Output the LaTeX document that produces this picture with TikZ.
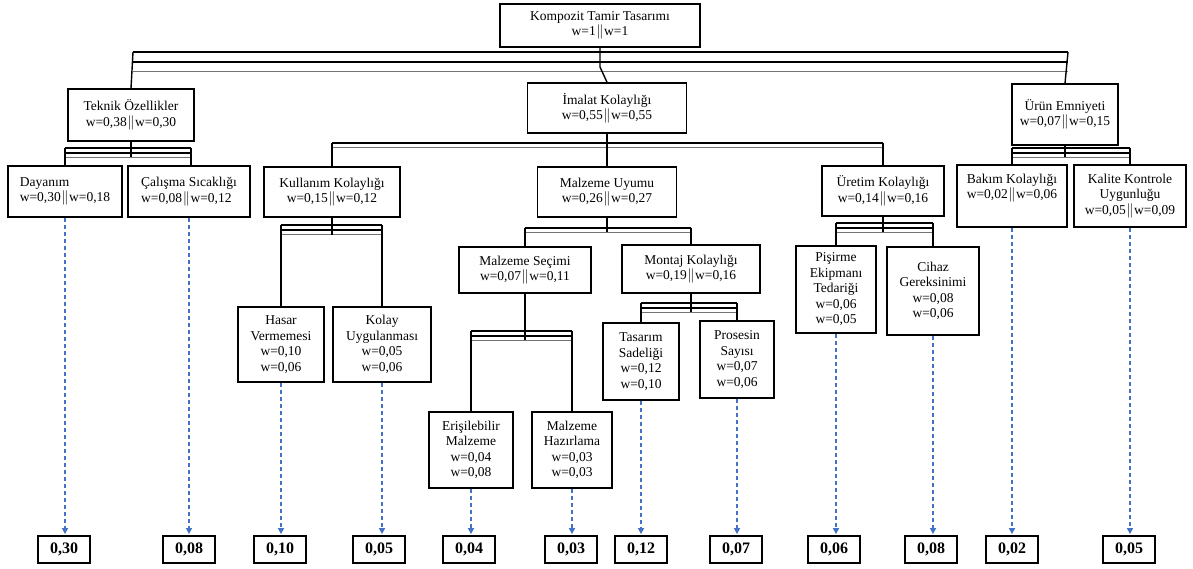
\documentclass[tikz,border=0pt]{standalone}
\usepackage{fontspec}
\setmainfont{Liberation Serif}
\usetikzlibrary{arrows.meta}
\definecolor{arrblue}{HTML}{4472C4}
\newcommand{\bxfont}{\fontsize{13.5}{15.5}\selectfont}
\newcommand{\W}{\hspace{0.6pt}$\|$\hspace{0.6pt}}
\newcommand{\busthree}[3]{%
  \draw[busd] (#2,#1) -- (#3,#1);
  \draw[busd] (#2,#1+5) -- (#3,#1+5);
  \draw[busg] (#2,#1+9) -- (#3,#1+9);}
\newcommand{\bustwo}[3]{%
  \draw[busd] (#2,#1) -- (#3,#1);
  \draw[busg] (#2,#1+4) -- (#3,#1+4);}
\begin{document}
\begin{tikzpicture}[x=1pt,y=-1pt,
  box/.style={draw, line width=1.5pt, inner sep=2pt, align=center, font=\bxfont},
  txt/.style={inner sep=0pt, align=center, font=\bxfont},
  bot/.style={draw, line width=1.8pt, minimum width=52pt, minimum height=27pt, inner sep=0pt,
    font=\bfseries\fontsize{16}{16}\selectfont},
  con/.style={line width=1.4pt},
  busd/.style={line width=1.2pt},
  busg/.style={line width=1pt, black!55},
  arr/.style={draw=arrblue, line width=1.5pt, dash pattern=on 4pt off 3pt,
    -{Triangle[length=6pt,width=6pt,fill=arrblue]}, shorten >=1pt}]
\useasboundingbox (0,0) rectangle (1193,568);

% level 1
\node[box, minimum width=200pt, minimum height=43pt] (top) at (600,25.5) {Kompozit Tamir Tasarımı\\w=1\W w=1};
% level 2
\node[box, minimum width=126pt, minimum height=52pt] (tek) at (131,115) {Teknik Özellikler\\w=0,38\W w=0,30};
\node[box, minimum width=159pt, minimum height=50pt] (ima) at (607,108) {İmalat Kolaylığı\\w=0,55\W w=0,55};
\node[box, minimum width=106pt, minimum height=61pt] (urun) at (1065,114.5) {Ürün Emniyeti\\w=0,07\W w=0,15};
% level 3
\node[box, align=left, minimum width=114pt, minimum height=51pt] (day) at (65,191.5) {Dayanım\\w=0,30\W w=0,18};
\node[box, align=left, minimum width=122pt, minimum height=51pt] (cal) at (189,191.5) {Çalışma Sıcaklığı\\w=0,08\W w=0,12};
\node[box, minimum width=136pt, minimum height=50pt] (kul) at (332,192) {Kullanım Kolaylığı\\w=0,15\W w=0,12};
\node[box, minimum width=139pt, minimum height=50pt] (mu) at (607,192) {Malzeme Uyumu\\w=0,26\W w=0,27};
\node[box, minimum width=122pt, minimum height=50pt] (ure) at (883,191) {Üretim Kolaylığı\\w=0,14\W w=0,16};
\node[box, minimum width=110pt, minimum height=62pt] (bak) at (1012,196) {};
\node[txt] (bakt) at (1012,188) {Bakım Kolaylığı\\w=0,02\W w=0,06};
\node[box, minimum width=112pt, minimum height=62pt] (kal) at (1130,196) {Kalite Kontrole\\Uygunluğu\\w=0,05\W w=0,09};
% level 4
\node[box, minimum width=86pt, minimum height=75pt] (has) at (281,344.5) {Hasar\\Vermemesi\\w=0,10\\w=0,06};
\node[box, minimum width=98pt, minimum height=75pt] (kol) at (382,344.5) {Kolay\\Uygulanması\\w=0,05\\w=0,06};
\node[box, minimum width=132pt, minimum height=46pt] (ms) at (525,270) {Malzeme Seçimi\\w=0,07\W w=0,11};
\node[box, minimum width=138pt, minimum height=48pt] (mon) at (691,269) {Montaj Kolaylığı\\w=0,19\W w=0,16};
\node[box, minimum width=80pt, minimum height=87pt] (pis) at (836,289.5) {Pişirme\\Ekipmanı\\Tedariği\\w=0,06\\w=0,05};
\node[box, minimum width=92pt, minimum height=88pt] (cih) at (933,291) {Cihaz\\Gereksinimi\\w=0,08\\w=0,06};
% level 5
\node[box, minimum width=84pt, minimum height=76pt] (eri) at (471,450) {Erişilebilir\\Malzeme\\w=0,04\\w=0,08};
\node[box, minimum width=80pt, minimum height=76pt] (mh) at (572,450) {Malzeme\\Hazırlama\\w=0,03\\w=0,03};
\node[box, minimum width=76pt, minimum height=77pt] (tas) at (641,361.5) {Tasarım\\Sadeliği\\w=0,12\\w=0,10};
\node[box, minimum width=74pt, minimum height=77pt] (pro) at (737,359.5) {Prosesin\\Sayısı\\w=0,07\\w=0,06};

% bottom result boxes
\node[bot] (b1) at (64,549.5) {0,30};
\node[bot] (b2) at (189,549.5) {0,08};
\node[bot] (b3) at (280,549.5) {0,10};
\node[bot] (b4) at (379,549.5) {0,05};
\node[bot] (b5) at (469,549.5) {0,04};
\node[bot] (b6) at (571,549.5) {0,03};
\node[bot] (b7) at (641,549.5) {0,12};
\node[bot] (b8) at (736,549.5) {0,07};
\node[bot] (b9) at (834,549.5) {0,06};
\node[bot] (b10) at (931,549.5) {0,08};
\node[bot] (b11) at (1012,549.5) {0,02};
\node[bot] (b12) at (1129,549.5) {0,05};

% top bus
\draw[busd] (133,52) -- (1068,52);
\draw[busd] (133,62) -- (1068,62);
\draw[busg] (133,71) -- (1068,71);
\draw[con] (133,52) -- (tek.north);
\draw[con] (1068,52) -- (urun.north);
\draw[con] (top.south) -- (600,67) -- (ima.north);

% Teknik bus
\busthree{148}{65}{191}
\draw[con] (tek.south) -- (131,157);
\draw[con] (day.north) -- (day.north |- 0,148);
\draw[con] (cal.north -| 191,0) -- (191,148);

% Imalat bus
\bustwo{143}{332}{883}
\draw[con] (ima.south) -- (mu.north);
\draw[con] (kul.north) -- (kul.north |- 0,143);
\draw[con] (ure.north) -- (ure.north |- 0,143);

% Urun bus
\busthree{148}{1012}{1130}
\draw[con] (urun.south) -- (1065,157);
\draw[con] (bak.north) -- (bak.north |- 0,148);
\draw[con] (kal.north) -- (kal.north |- 0,148);

% Kullanim bus
\busthree{225}{281}{382}
\draw[con] (kul.south) -- (332,235);
\draw[con] (has.north) -- (has.north |- 0,225);
\draw[con] (kol.north) -- (kol.north |- 0,225);

% Malzeme Uyumu bus
\bustwo{228}{525}{691}
\draw[con] (mu.south) -- (607,232);
\draw[con] (ms.north) -- (ms.north |- 0,228);
\draw[con] (mon.north) -- (mon.north |- 0,228);

% Malzeme Secimi bus
\busthree{331}{471}{572}
\draw[con] (ms.south) -- (525,340);
\draw[con] (eri.north) -- (eri.north |- 0,331);
\draw[con] (mh.north) -- (mh.north |- 0,331);

% Montaj bus
\busthree{303}{641}{737}
\draw[con] (mon.south) -- (691,312);
\draw[con] (tas.north) -- (tas.north |- 0,303);
\draw[con] (pro.north) -- (pro.north |- 0,303);

% Uretim bus
\busthree{223}{836}{933}
\draw[con] (ure.south) -- (883,232);
\draw[con] (pis.north) -- (pis.north |- 0,223);
\draw[con] (cih.north) -- (cih.north |- 0,223);

% dashed arrows
\draw[arr] (day.south) -- (day.south |- b1.north);
\draw[arr] (cal.south) -- (cal.south |- b2.north);
\draw[arr] (has.south) -- (has.south |- b3.north);
\draw[arr] (kol.south) -- (kol.south |- b4.north);
\draw[arr] (eri.south) -- (eri.south |- b5.north);
\draw[arr] (mh.south) -- (mh.south |- b6.north);
\draw[arr] (tas.south) -- (tas.south |- b7.north);
\draw[arr] (pro.south) -- (pro.south |- b8.north);
\draw[arr] (pis.south) -- (pis.south |- b9.north);
\draw[arr] (cih.south) -- (cih.south |- b10.north);
\draw[arr] (bak.south) -- (bak.south |- b11.north);
\draw[arr] (kal.south) -- (kal.south |- b12.north);
\end{tikzpicture}
\end{document}
